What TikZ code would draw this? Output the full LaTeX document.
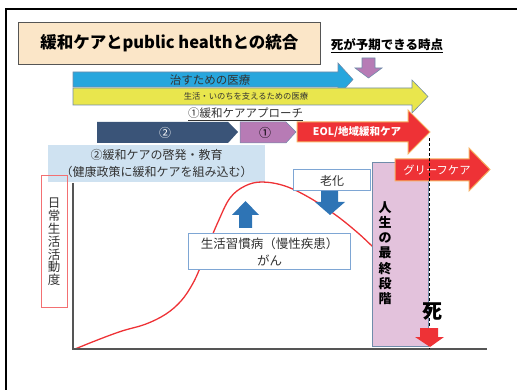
\documentclass[tikz,border=0pt]{standalone}
\usepackage{fontspec}
\setmainfont{Noto Sans CJK JP}
\newfontfamily\jp{Noto Sans CJK JP}
\usetikzlibrary{calc}
\definecolor{titlebg}{RGB}{251,230,200}
\definecolor{cureblue}{RGB}{39,166,221}
\definecolor{lifeyellow}{RGB}{233,230,77}
\definecolor{navy}{RGB}{58,84,120}
\definecolor{lilac}{RGB}{183,123,181}
\definecolor{eolred}{RGB}{238,50,54}
\definecolor{edgeorange}{RGB}{246,178,100}
\definecolor{paleblue}{RGB}{207,226,241}
\definecolor{palepink}{RGB}{227,194,220}
\definecolor{arrowblue}{RGB}{46,116,181}
\definecolor{boxblue}{RGB}{126,166,212}
\definecolor{outlinegray}{RGB}{112,140,170}
\definecolor{axisgray}{RGB}{85,85,85}
\definecolor{txtgray}{RGB}{50,50,50}
\tikzset{
  lbl/.style={inner sep=0pt, font=\jp},
  bandarrow/.style={draw=outlinegray, line width=0.6pt},
  redarrow/.style={fill=eolred, draw=edgeorange, line width=1pt},
  whitebox/.style={draw=boxblue, line width=1pt, fill=white},
}
\begin{document}
\begin{tikzpicture}[x=1pt,y=-1pt]
\useasboundingbox (0,0) rectangle (517,390);
% outer frame
\draw[line width=2.5pt] (6,390) -- (6,9) -- (517,9);
% title
\node[draw=axisgray, line width=0.8pt, fill=titlebg, minimum width=302pt, minimum height=42pt, anchor=north west, inner sep=0pt] (title) at (18,22) {};
\node[lbl, font=\jp\bfseries\fontsize{16.5}{18}\selectfont] (titletext) at (title.center) {緩和ケアとpublic healthとの統合};
% moment death is foreseeable
\node[lbl, font=\jp\bfseries\fontsize{12.5}{14}\selectfont, anchor=center] (foresee) at (387,46) {\underline{死が予期できる時点}};
\fill[lilac, draw=outlinegray, line width=0.6pt] (362,58) -- (375,58) -- (375,68) -- (382,68) -- (368.5,78) -- (355,68) -- (362,68) -- cycle;
% blue band arrow
\fill[cureblue, bandarrow] (73,72) -- (338,72) -- (338,63) -- (353,79.5) -- (338,96) -- (338,87) -- (73,87) -- cycle;
\node[lbl, text=txtgray, font=\jp\fontsize{11.5}{13}\selectfont] (cure) at (210,80) {治すための医療};
% yellow band arrow
\fill[lifeyellow, bandarrow] (73,88) -- (412,88) -- (412,80) -- (428,96.5) -- (412,113) -- (412,105) -- (73,105) -- cycle;
\node[lbl, text=txtgray, font=\jp\fontsize{8.3}{10}\selectfont] (life) at (246,96.5) {生活・いのちを支えるための医療};
% palliative approach label
\node[lbl, text=txtgray, font=\jp\fontsize{11.5}{13}\selectfont] (approach) at (245.5,114) {\underline{①緩和ケアアプローチ}};
% chevrons
\fill[navy] (97,122) -- (228,122) -- (238,132) -- (228,143) -- (97,143) -- cycle;
\node[lbl, text=white, font=\jp\fontsize{12}{14}\selectfont] (two) at (165,132.5) {②};
\fill[lilac, draw=outlinegray, line width=0.5pt] (240,122) -- (286,122) -- (296,132) -- (286,143) -- (240,143) -- cycle;
\node[lbl, text=black, font=\jp\fontsize{12}{14}\selectfont] (one) at (265,132.5) {①};
\fill[redarrow] (297,122) -- (408,122) -- (408,110) -- (430,132) -- (408,154) -- (408,142) -- (297,142) -- cycle;
\node[lbl, text=white, font=\jp\bfseries\fontsize{10.5}{12}\selectfont] (eol) at (357,132) {EOL/地域緩和ケア};
% education box
\node[fill=paleblue, minimum width=217pt, minimum height=37pt, anchor=north west, inner sep=0pt] (edu) at (48,145) {};
\node[lbl, text=txtgray, align=center, font=\jp\fontsize{12}{17}\selectfont] (edutext) at (edu.center) {②緩和ケアの啓発・教育\\（健康政策に緩和ケアを組み込む）};
% y-axis label
\node[draw=eolred!70, line width=0.6pt, minimum width=26pt, minimum height=132pt, anchor=north west, inner sep=0pt] (ylab) at (41,175) {};
\node[lbl, text=txtgray, align=center, font=\jp\fontsize{12.5}{12.8}\selectfont] (ylabtext) at (54,242) {日\\常\\生\\活\\活\\動\\度};
% activity curve
\draw[eolred, line width=1.3pt] plot[smooth, tension=0.6] coordinates {(75,349) (100,339) (122,331) (146,324) (166,314) (181,301) (192,285) (200,268) (208,246) (218,222) (230,198) (245,186) (262,182) (285,186) (310,198) (337,216) (358,233) (372,246) (385,258)};
% axes
\draw[axisgray, line width=1.3pt] (73,183) -- (73,349) -- (487,349);
% final stage box
\node[fill=palepink, draw=outlinegray, line width=0.8pt, minimum width=56pt, minimum height=184pt, anchor=north west, inner sep=0pt] (final) at (371.5,162) {};
\node[lbl, text=black, align=center, font=\jp\bfseries\fontsize{13}{15.2}\selectfont] (finaltext) at (385,253) {人\\生\\の\\最\\終\\段\\階};
% grief care arrow
\fill[redarrow] (395,159) -- (469,159) -- (469,148) -- (490,169.5) -- (469,191) -- (469,181) -- (395,181) -- cycle;
\node[lbl, text=white, font=\jp\fontsize{11.3}{13}\selectfont] (grief) at (437,170) {グリーフケア};
% dashed time-of-death line
\draw[black, line width=0.7pt, dash pattern=on 3pt off 2pt] (429,138) -- (429,349);
% death
\node[lbl, font=\jp\bfseries\fontsize{20}{22}\selectfont] (death) at (432,312) {死};
\fill[eolred] (420,328) -- (438,328) -- (438,337) -- (444,337) -- (430,347) -- (415,337) -- (420,337) -- cycle;
% aging box and arrow
\node[whitebox, minimum width=77pt, minimum height=21pt, anchor=north west, inner sep=0pt] (aging) at (293,169.5) {};
\node[lbl, text=txtgray, font=\jp\fontsize{12}{14}\selectfont] (agingtext) at (aging.center) {老化};
\fill[arrowblue] (321,191) -- (338,191) -- (338,202) -- (345,202) -- (330,215) -- (315,202) -- (321,202) -- cycle;
% lifestyle disease box and arrow
\fill[arrowblue] (239,228) -- (252,228) -- (252,215) -- (259,215) -- (245.5,201) -- (232,215) -- (239,215) -- cycle;
\node[whitebox, minimum width=162pt, minimum height=36pt, anchor=north west, inner sep=0pt] (disease) at (188,233) {};
\node[lbl, text=txtgray, align=center, font=\jp\fontsize{12.5}{17}\selectfont] (diseasetext) at (disease.center) {生活習慣病（慢性疾患）\\がん};
\end{tikzpicture}
\end{document}
